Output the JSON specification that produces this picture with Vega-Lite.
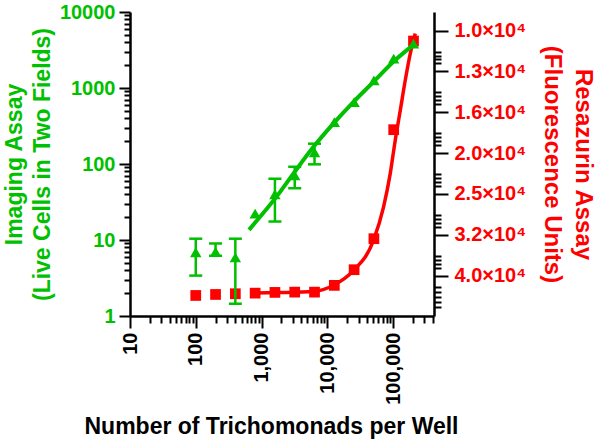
{
  "$schema": "https://vega.github.io/schema/vega-lite/v6.json",
  "width": 304,
  "height": 304,
  "autosize": {"type": "none"},
  "padding": {"left": 130, "top": 12, "right": 166, "bottom": 128},
  "datasets": {
    "green": [
      {"n": 100, "cells": 6.9},
      {"n": 200, "cells": 7.0},
      {"n": 400, "cells": 5.9},
      {"n": 800, "cells": 22.2},
      {"n": 1600, "cells": 40},
      {"n": 3200, "cells": 71},
      {"n": 6400, "cells": 143},
      {"n": 12800, "cells": 356},
      {"n": 25600, "cells": 653},
      {"n": 51200, "cells": 1262},
      {"n": 102400, "cells": 2432},
      {"n": 204800, "cells": 3837}
    ],
    "greenErr": [
      {"n": 100, "cells": 3.4}, {"n": 100, "cells": 10.4},
      {"n": 200, "cells": 6.2}, {"n": 200, "cells": 9.0},
      {"n": 400, "cells": 1.45}, {"n": 400, "cells": 10.4},
      {"n": 1600, "cells": 17.5}, {"n": 1600, "cells": 64},
      {"n": 3200, "cells": 48}, {"n": 3200, "cells": 92},
      {"n": 6400, "cells": 99}, {"n": 6400, "cells": 185}
    ],
    "greenFit": [
      {"n": 646, "cells": 13.6},
      {"n": 1910, "cells": 42.7},
      {"n": 3050, "cells": 74.5},
      {"n": 6140, "cells": 167},
      {"n": 12360, "cells": 340},
      {"n": 24900, "cells": 653},
      {"n": 50100, "cells": 1197},
      {"n": 107000, "cells": 2312},
      {"n": 216000, "cells": 3837}
    ],
    "red": [
      {"n": 100, "fl": 44530},
      {"n": 200, "fl": 44280},
      {"n": 400, "fl": 44100},
      {"n": 800, "fl": 43950},
      {"n": 1600, "fl": 43770},
      {"n": 3200, "fl": 43700},
      {"n": 6400, "fl": 43700},
      {"n": 12800, "fl": 42070},
      {"n": 25600, "fl": 38510},
      {"n": 51200, "fl": 32330},
      {"n": 102400, "fl": 17480},
      {"n": 204800, "fl": 10600}
    ],
    "redFit": [
      {"n": 800, "fl": 43900},
      {"n": 1900, "fl": 43800},
      {"n": 6150, "fl": 43530},
      {"n": 12300, "fl": 42100},
      {"n": 25100, "fl": 38670},
      {"n": 50400, "fl": 32640},
      {"n": 71700, "fl": 27050},
      {"n": 90700, "fl": 22400},
      {"n": 108000, "fl": 18570},
      {"n": 129000, "fl": 15670},
      {"n": 153500, "fl": 13230},
      {"n": 183000, "fl": 11380},
      {"n": 218000, "fl": 10160}
    ]
  },
  "encoding": {
    "x": {
      "field": "n",
      "type": "quantitative",
      "scale": {"type": "log", "domain": [10, 420000], "nice": false},
      "axis": {
        "orient": "bottom",
        "values": [10,20,30,40,50,60,70,80,90,100,200,300,400,500,600,700,800,900,1000,2000,3000,4000,5000,6000,7000,8000,9000,10000,20000,30000,40000,50000,60000,70000,80000,90000,100000,200000,300000,400000],
        "labelExpr": "abs(log(datum.value)/LN10 - round(log(datum.value)/LN10)) < 0.0001 ? format(datum.value, ',d') : ''",
        "tickSize": {"condition": {"test": "abs(log(datum.value)/LN10 - round(log(datum.value)/LN10)) < 0.0001", "value": 12}, "value": 7},
        "tickColor": "black",
        "tickWidth": 2,
        "domainColor": "black",
        "domainWidth": 2.5,
        "grid": false,
        "labelAngle": -90,
        "labelFont": "Liberation Sans",
        "labelFontWeight": "bold",
        "labelFontSize": 20,
        "labelColor": "black",
        "labelPadding": 4,
        "labelOverlap": false,
        "labelFlush": false,
        "labelBound": false,
        "title": "Number of Trichomonads per Well",
        "titleFont": "Liberation Sans",
        "titleFontWeight": "bold",
        "titleFontSize": 23,
        "titleColor": "black",
        "titleX": 141,
        "titleY": 117,
        "titleAlign": "center",
        "titleBaseline": "alphabetic"
      }
    }
  },
  "layer": [
    {
      "encoding": {
        "y": {
          "field": "fl",
          "type": "quantitative",
          "scale": {"type": "log", "domain": [9000, 50000], "reverse": true, "nice": false},
          "axis": {
            "orient": "right",
            "values": [10000, 11247, 11503, 11765, 12031, 12589.254, 14158, 14480, 14808, 15146, 15848.932, 17823, 18227, 18643, 19068, 19952.623, 22439, 22946, 23468, 24004, 25118.864, 28248, 28889, 29547, 30221, 31622.777, 35563, 36368, 37196, 38045, 39810.717, 42560, 43770, 45020, 46310, 47640],
            "labelExpr": "abs(10*log(datum.value)/LN10 - round(10*log(datum.value)/LN10)) < 0.001 ? format(datum.value/10000, '.1f') + '×10⁴' : ''",
            "tickSize": {"condition": {"test": "abs(10*log(datum.value)/LN10 - round(10*log(datum.value)/LN10)) < 0.001", "value": 14}, "value": 7},
            "tickColor": "black",
            "tickWidth": 2,
            "domainColor": "black",
            "domainWidth": 2.5,
            "grid": false,
            "labelFont": "Liberation Sans",
            "labelFontWeight": "bold",
            "labelFontSize": 20,
            "labelColor": "#ff0000",
            "labelPadding": 6,
            "labelOverlap": false,
            "labelFlush": false,
            "labelBound": false,
            "title": ["Resazurin Assay", "(Fluorescence Units)"],
            "titleFont": "Liberation Sans",
            "titleFontWeight": "bold",
            "titleFontSize": 24,
            "titleLineHeight": 31,
            "titleColor": "#ff0000",
            "titlePadding": 14
          }
        }
      },
      "layer": [
        {
          "data": {"name": "redFit"},
          "mark": {"type": "line", "color": "#ff0000", "strokeWidth": 3.5, "interpolate": "monotone"},
          "encoding": {}
        },
        {
          "data": {"name": "red"},
          "mark": {"type": "point", "shape": "square", "filled": true, "size": 115, "color": "#ff0000", "opacity": 1}
        }
      ]
    },
    {
      "encoding": {
        "y": {
          "field": "cells",
          "type": "quantitative",
          "scale": {"type": "log", "domain": [1, 10000], "nice": false},
          "axis": {
            "orient": "left",
            "values": [1,2,3,4,5,6,7,8,9,10,20,30,40,50,60,70,80,90,100,200,300,400,500,600,700,800,900,1000,2000,3000,4000,5000,6000,7000,8000,9000,10000],
            "labelExpr": "abs(log(datum.value)/LN10 - round(log(datum.value)/LN10)) < 0.0001 ? format(datum.value, 'd') : ''",
            "tickSize": {"condition": {"test": "abs(log(datum.value)/LN10 - round(log(datum.value)/LN10)) < 0.0001", "value": 11}, "value": 6},
            "tickColor": "black",
            "tickWidth": 2,
            "domainColor": "black",
            "domainWidth": 2.5,
            "grid": false,
            "labelFont": "Liberation Sans",
            "labelFontWeight": "bold",
            "labelFontSize": 20,
            "labelColor": "#00c000",
            "labelPadding": 4,
            "labelOverlap": false,
            "labelFlush": false,
            "labelBound": false,
            "title": ["Imaging Assay", "(Live Cells in Two Fields)"],
            "titleFont": "Liberation Sans",
            "titleFontWeight": "bold",
            "titleFontSize": 23,
            "titleLineHeight": 28,
            "titleColor": "#00c000",
            "titlePadding": 5
          }
        }
      },
      "layer": [
        {
          "data": {"name": "greenFit"},
          "mark": {"type": "line", "color": "#00c000", "strokeWidth": 4, "interpolate": "monotone"},
          "encoding": {}
        },
        {
          "data": {"name": "greenErr"},
          "mark": {"type": "line", "color": "#00c000", "strokeWidth": 2.5},
          "encoding": {"detail": {"field": "n", "type": "quantitative"}}
        },
        {
          "data": {"name": "greenErr"},
          "mark": {"type": "tick", "orient": "horizontal", "size": 13, "thickness": 2.5, "color": "#00c000", "opacity": 1}
        },
        {
          "data": {"name": "green"},
          "mark": {"type": "point", "shape": "triangle-up", "filled": true, "size": 130, "color": "#00c000", "opacity": 1}
        }
      ]
    }
  ],
  "resolve": {"scale": {"y": "independent"}},
  "config": {"view": {"stroke": null}}
}
